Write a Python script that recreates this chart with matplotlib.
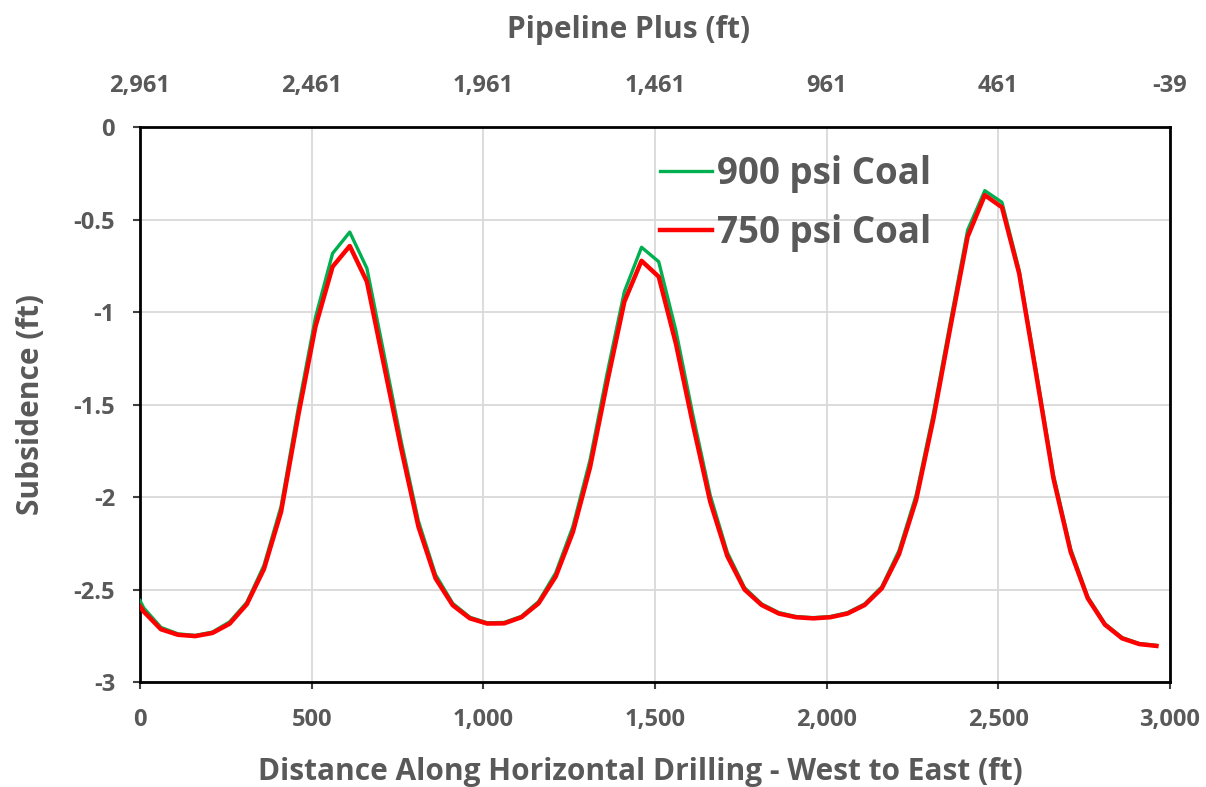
import matplotlib
matplotlib.use("Agg")
import matplotlib.pyplot as plt

distance_ft = [0, 11, 61, 111, 161, 211, 261, 311, 361, 411, 461, 511, 561, 611, 661,
               711, 761, 811, 861, 911, 961, 1011, 1061, 1111, 1161, 1211, 1261, 1311,
               1361, 1411, 1461, 1511, 1561, 1611, 1661, 1711, 1761, 1811, 1861, 1911,
               1961, 2011, 2061, 2111, 2161, 2211, 2261, 2311, 2361, 2411, 2461, 2511,
               2561, 2611, 2661, 2711, 2761, 2811, 2861, 2911, 2961]

coal_750 = [-2.59, -2.62, -2.715, -2.745, -2.752, -2.735, -2.685, -2.58, -2.39, -2.08,
            -1.56, -1.08, -0.755, -0.643, -0.836, -1.29, -1.74, -2.16, -2.44, -2.585,
            -2.656, -2.684, -2.683, -2.65, -2.575, -2.43, -2.19, -1.84, -1.38, -0.944,
            -0.723, -0.809, -1.17, -1.61, -2.025, -2.32, -2.50, -2.584, -2.63, -2.65,
            -2.656, -2.65, -2.63, -2.584, -2.494, -2.31, -2.016, -1.58, -1.08, -0.593,
            -0.368, -0.434, -0.791, -1.34, -1.90, -2.296, -2.548, -2.69, -2.764, -2.795,
            -2.805]

coal_900 = [-2.56, -2.60, -2.705, -2.74, -2.748, -2.73, -2.675, -2.57, -2.37, -2.05,
            -1.52, -1.03, -0.683, -0.568, -0.764, -1.23, -1.70, -2.13, -2.42, -2.575,
            -2.65, -2.68, -2.678, -2.645, -2.565, -2.41, -2.16, -1.80, -1.33, -0.89,
            -0.650, -0.728, -1.10, -1.56, -1.99, -2.30, -2.49, -2.578, -2.625, -2.646,
            -2.652, -2.646, -2.625, -2.578, -2.485, -2.29, -1.99, -1.55, -1.05, -0.557,
            -0.344, -0.407, -0.773, -1.32, -1.88, -2.28, -2.54, -2.685, -2.76, -2.792,
            -2.802]

x_ticks = [0, 500, 1000, 1500, 2000, 2500, 3000]
x_tick_labels = ["0", "500", "1,000", "1,500", "2,000", "2,500", "3,000"]
top_tick_labels = ["2,961", "2,461", "1,961", "1,461", "961", "461", "-39"]
y_ticks = [0, -0.5, -1, -1.5, -2, -2.5, -3]
y_tick_labels = ["0", "-0.5", "-1", "-1.5", "-2", "-2.5", "-3"]

plt.rcParams['font.family'] = ['Open Sans', 'DejaVu Sans']
grey = "#595959"

fig = plt.figure(figsize=(12.06, 7.87), dpi=100)
ax = fig.add_axes([0.1161, 0.1334, 0.970 - 0.1161, 0.8386 - 0.1334])

ax.plot(distance_ft, coal_900, color="#00B050", lw=2.4, label="900 psi Coal", zorder=3)
ax.plot(distance_ft, coal_750, color="#FF0000", lw=3.2, label="750 psi Coal", zorder=4)

ax.set_xlim(0, 3000)
ax.set_ylim(-3, 0)
ax.set_xticks(x_ticks)
ax.set_xticklabels(x_tick_labels)
ax.set_yticks(y_ticks)
ax.set_yticklabels(y_tick_labels)
ax.grid(True, color="#d9d9d9", lw=1.3)
ax.set_axisbelow(True)
for s in ax.spines.values():
    s.set_color("black")
    s.set_linewidth(2)
ax.tick_params(axis="both", colors=grey, labelsize=17, length=5, width=1.5)
ax.tick_params(axis="both", color="#404040")
ax.tick_params(axis="x", pad=14)
ax.tick_params(axis="y", pad=13)
for lab in ax.get_xticklabels() + ax.get_yticklabels():
    lab.set_fontweight("bold")
ax.set_xlabel("Distance Along Horizontal Drilling - West to East (ft)", fontsize=21.5,
              fontweight="bold", color=grey, labelpad=18)
ax.xaxis.label.set_x(0.486)
ax.set_ylabel("Subsidence (ft)", fontsize=21.5, fontweight="bold", color=grey, labelpad=20)

top = ax.twiny()
top.set_xlim(0, 3000)
top.set_xticks(x_ticks)
top.set_xticklabels(top_tick_labels)
top.tick_params(axis="x", colors=grey, labelsize=17, length=0, pad=21)
for lab in top.get_xticklabels():
    lab.set_fontweight("bold")
top.set_xlabel("Pipeline Plus (ft)", fontsize=21.5, fontweight="bold", color=grey, labelpad=26)
top.xaxis.label.set_x(0.474)
for s in top.spines.values():
    s.set_visible(False)

leg = ax.legend(loc="upper left", bbox_to_anchor=(0.505, 0.949), frameon=False,
                prop={"size": 26.5, "weight": "bold"}, handlelength=1.4,
                handletextpad=0.15, labelspacing=0.57, borderaxespad=0, borderpad=0)
for t in leg.get_texts():
    t.set_color(grey)

fig.savefig("out.png", dpi=100, facecolor="white")
